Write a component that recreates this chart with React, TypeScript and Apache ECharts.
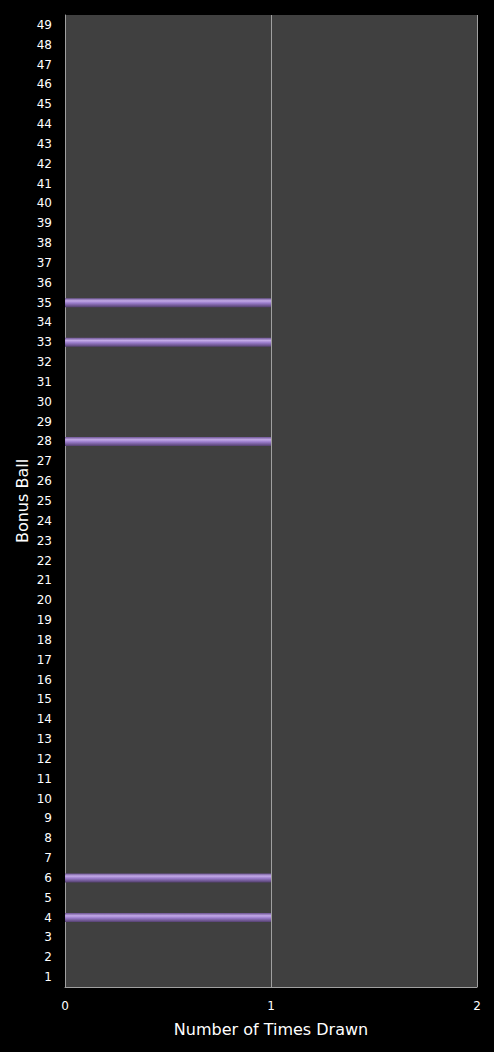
import React, { useEffect, useRef } from 'react'
import * as echarts from 'echarts'

const balls: string[] = Array.from({ length: 49 }, (_, i) => String(i + 1))
const drawnBalls = ['4', '6', '28', '33', '35']
const drawnCounts = [1, 1, 1, 1, 1]
const countTicks = [0, 1, 2]

export default function App() {
  const chartRef: any = useRef()

  useEffect(() => {
    document.body.style.margin = '0'
    document.body.style.background = '#000'
    const myChart = echarts.init(chartRef.current, null, { renderer: 'svg' })
    const values = balls.map((b) => {
      const idx = drawnBalls.indexOf(b)
      return idx >= 0 ? drawnCounts[idx] : 0
    })
    const option = {
      animation: false,
      backgroundColor: '#000000',
      grid: {
        left: 65,
        right: 17,
        top: 15,
        bottom: 65,
        show: true,
        backgroundColor: '#404040',
        borderWidth: 0
      },
      xAxis: {
        type: 'value',
        min: countTicks[0],
        max: countTicks[countTicks.length - 1],
        interval: 1,
        name: 'Number of Times Drawn',
        nameLocation: 'middle',
        nameGap: 34,
        nameTextStyle: { color: '#ffffff', fontSize: 16, fontFamily: 'DejaVu Sans' },
        axisLine: { show: true, lineStyle: { color: '#a0a0a0', width: 1 } },
        axisTick: { show: false },
        axisLabel: { color: '#ffffff', fontSize: 12, fontFamily: 'DejaVu Sans', margin: 13 },
        splitLine: { show: true, lineStyle: { color: '#a0a0a0', width: 1 } }
      },
      yAxis: {
        type: 'category',
        data: balls,
        name: 'Bonus Ball',
        nameLocation: 'middle',
        nameGap: 35,
        nameMoveOverlap: false,
        nameRotate: 90,
        nameTextStyle: { color: '#ffffff', fontSize: 16, fontFamily: 'DejaVu Sans' },
        axisLine: { show: true, lineStyle: { color: '#a0a0a0', width: 1 } },
        axisTick: { show: false },
        axisLabel: { color: '#ffffff', fontSize: 12, fontFamily: 'DejaVu Sans', margin: 13, interval: 0 },
        splitLine: { show: false }
      },
      series: [
        {
          type: 'bar',
          data: values,
          barWidth: 9,
          itemStyle: {
            color: new echarts.graphic.LinearGradient(0, 0, 0, 1, [
              { offset: 0, color: '#6e5594' },
              { offset: 0.3, color: '#c3aae8' },
              { offset: 0.55, color: '#9a7ccb' },
              { offset: 1, color: '#54406f' }
            ])
          }
        }
      ]
    }
    myChart.setOption(option)
    return () => {
      myChart.dispose()
    }
  }, [])

  return <div style={{ width: '494px', height: '1052px' }} ref={chartRef} />
}
